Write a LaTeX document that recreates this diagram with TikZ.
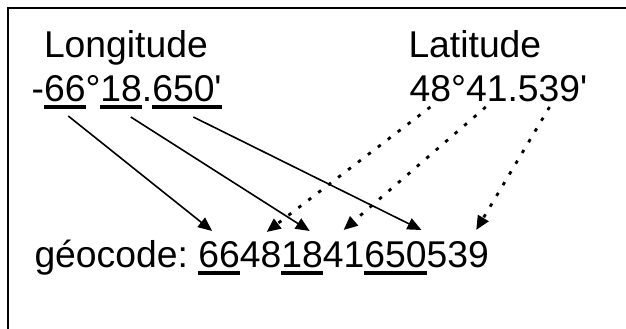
\documentclass[tikz,border=0pt]{standalone}
\usepackage{fontspec}
\newfontfamily\arial{Liberation Sans}
\usetikzlibrary{arrows.meta,calc}
\begin{document}
\begin{tikzpicture}[x=1pt,y=-1pt,
  txt/.style={inner sep=0pt,outer sep=0pt,anchor=base west,
    font=\arial\fontsize{37.3}{44}\selectfont},
  uline/.style={line width=4.8pt},
  frameline/.style={line width=2.4pt},
  solidarrow/.style={line width=1.6pt,-{Triangle[length=14pt,width=12pt]}},
  dotarrow/.style={line width=2.8pt,dash pattern=on 3.5pt off 9pt,
    -{Triangle[length=14pt,width=12pt]}}]
\useasboundingbox (0,0) rectangle (626,329);
\clip (0,0) rectangle (626,329);
\fill[white] (0,0) rectangle (626,329);

% frame (left and top edges)
\draw[frameline] (8,340) -- (8,8) -- (640,8);

% longitude
\node[txt] (lonlbl) at (44,57) {Longitude};
\node[txt] (lonsign) at (31.6,101) {-};
\node[txt] (lon66)  at (lonsign.base east) {66};
\node[txt] (londeg) at (lon66.base east) {°};
\node[txt] (lon18)  at (londeg.base east) {18};
\node[txt] (londot) at (lon18.base east) {.};
\node[txt] (lon650) at (londot.base east) {650\textquotesingle};

% latitude
\node[txt] (latlbl) at (408.5,57) {Latitude};
\node[txt] (lat48)  at (409.6,101) {48};
\node[txt] (latdeg) at (lat48.base east) {°};
\node[txt] (lat41)  at (latdeg.base east) {41};
\node[txt] (latdot) at (lat41.base east) {.};
\node[txt] (lat539) at (latdot.base east) {539\textquotesingle};

% geocode
\node[txt] (geolbl) at (34.5,267) {géocode:};
\node[txt] (g66)  at ([xshift=10.4pt]geolbl.base east) {66};
\node[txt] (g48)  at (g66.base east) {48};
\node[txt] (g18)  at (g48.base east) {18};
\node[txt] (g41)  at (g18.base east) {41};
\node[txt] (g650) at (g41.base east) {650};
\node[txt] (g539) at (g650.base east) {539};

% underlines
\foreach \n in {lon66,lon18,lon650,g66,g18,g650}
  \draw[uline] ($(\n.base west)+(0,6)$) -- ($(\n.base east)+(0,6)$);

% longitude parts
\draw[solidarrow] ($(lon66.base)+(3.5,15)$)  -- ($(g66.base)+(-7,-36)$);
\draw[solidarrow] ($(lon18.base)+(9.6,16)$)  -- ($(g18.base)+(7.6,-36)$);
\draw[solidarrow] ($(lon650.base)+(6.4,16)$) -- ($(g650.base)+(26,-37)$);

% latitude parts
\draw[dotarrow] ($(lat48.base)+(0,6)$)   -- ($(g48.base)+(6,-35)$);
\draw[dotarrow] ($(lat41.base)+(-1,6)$)  -- ($(g41.base)+(0,-37)$);
\draw[dotarrow] ($(lat539.base)+(-3,6)$) -- ($(g539.base)+(18.5,-37)$);
\end{tikzpicture}
\end{document}
